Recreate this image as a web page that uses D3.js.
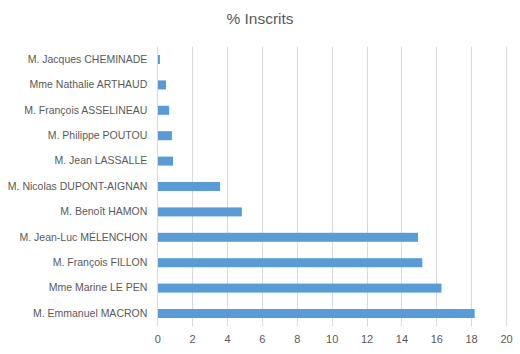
<!DOCTYPE html>
<html><head><meta charset="utf-8">
<script src="https://cdn.jsdelivr.net/npm/d3@7"></script>
<style>body{margin:0;background:#fff}svg{display:block}</style>
</head><body>
<svg id="chart" width="520" height="354"></svg>
<script>
const title = "% Inscrits";
const categories = ["M. Jacques CHEMINADE","Mme Nathalie ARTHAUD","M. François ASSELINEAU","M. Philippe POUTOU","M. Jean LASSALLE","M. Nicolas DUPONT-AIGNAN","M. Benoît HAMON","M. Jean-Luc MÉLENCHON","M. François FILLON","Mme Marine LE PEN","M. Emmanuel MACRON"];
const values = [0.15,0.5,0.68,0.84,0.9,3.6,4.85,14.95,15.2,16.3,18.2];
const xTicks = [0,2,4,6,8,10,12,14,16,18,20];

const svg = d3.select("#chart");
const font = "Liberation Sans, Arial, sans-serif";
const m = {left:157.3, right:506, top:46.8, bottom:326.2};
const x = d3.scaleLinear().domain([0,20]).range([m.left,m.right]);
const y = d3.scaleBand().domain(categories).range([m.top,m.bottom]).paddingInner(0.645).paddingOuter(0.3225);

svg.append("text").attr("x",260).attr("y",24).attr("text-anchor","middle")
  .attr("font-family",font).attr("font-size",15.5).attr("fill","#595959").text(title);

const grid = svg.append("g");
grid.selectAll("line").data(xTicks.slice(1)).join("line")
  .attr("x1",d=>Math.round(x(d))+0.5).attr("x2",d=>Math.round(x(d))+0.5)
  .attr("y1",m.top).attr("y2",m.bottom).attr("stroke","#d9d9d9").attr("stroke-width",1);

svg.append("g").selectAll("rect").data(values).join("rect")
  .attr("x",x(0)).attr("y",(d,i)=>y(categories[i])).attr("height",y.bandwidth())
  .attr("width",d=>x(d)-x(0)).attr("fill","#5b9bd5");

svg.append("line").attr("x1",Math.round(x(0))+0.5).attr("x2",Math.round(x(0))+0.5)
  .attr("y1",m.top).attr("y2",m.bottom).attr("stroke","#d9d9d9");

const xa = svg.append("g").attr("transform",`translate(0,${m.bottom})`)
  .call(d3.axisBottom(x).tickValues(xTicks).tickSize(0).tickPadding(9).tickFormat(d3.format("d")));
xa.select(".domain").remove();
xa.selectAll("text").attr("font-family",font).attr("font-size",11).attr("fill","#595959");

const ya = svg.append("g").attr("transform",`translate(${m.left-10},0)`)
  .call(d3.axisLeft(y).tickSize(0).tickPadding(0));
ya.select(".domain").remove();
ya.selectAll("text").attr("font-family",font).attr("font-size",10.5).attr("fill","#595959");
</script>
</body></html>
